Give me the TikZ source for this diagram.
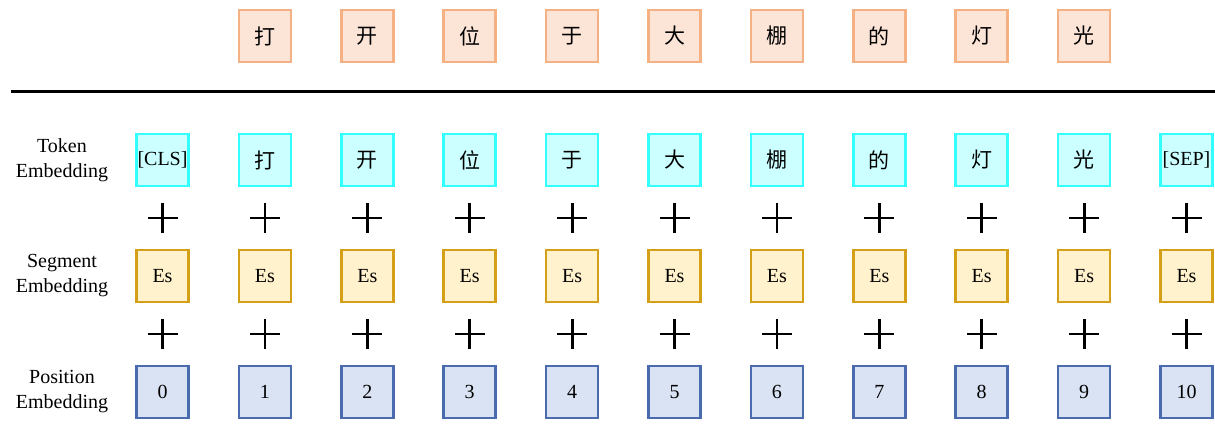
\documentclass[tikz,border=0pt]{standalone}
\usepackage{fontspec}
\setmainfont{Liberation Serif}
\newfontfamily\cjk{Noto Sans CJK SC}
\usepackage{xcolor}
\usetikzlibrary{positioning,calc}
\definecolor{outline}{HTML}{F4B183}
\definecolor{outfill}{HTML}{FCE4D6}
\definecolor{tokline}{HTML}{33FFFF}
\definecolor{tokfill}{HTML}{CCFFFF}
\definecolor{segline}{HTML}{D4A017}
\definecolor{segfill}{HTML}{FFF2CC}
\definecolor{posline}{HTML}{4A6CAE}
\definecolor{posfill}{HTML}{DAE3F3}
\begin{document}
\begin{tikzpicture}[x=1pt,y=-1pt,
  cell/.style={minimum size=52pt,inner sep=0pt,line width=2.6pt,
               font=\fontsize{20}{24}\selectfont},
  outbox/.style={cell,draw=outline,fill=outfill,font=\cjk\fontsize{21}{24}\selectfont},
  tokbox/.style={cell,draw=tokline,fill=tokfill},
  segbox/.style={cell,draw=segline,fill=segfill},
  posbox/.style={cell,draw=posline,fill=posfill},
  rowlabel/.style={align=center,font=\fontsize{20}{25}\selectfont},
  plus/.style={line width=2.8pt,black}
]
\useasboundingbox (0,0) rectangle (1215,423);
% output characters
\foreach \c [count=\i] in {打,开,位,于,大,棚,的,灯,光}
  \node[outbox] (out\i) at ({162.5+102.4*\i},36) {\c};
\draw[line width=3pt] (11,91) -- (1215,91);
% row labels
\node[rowlabel] (toklabel) at (62,160) {Token\\Embedding};
\node[rowlabel] (seglabel) at (62,276) {Segment\\Embedding};
\node[rowlabel] (poslabel) at (62,392) {Position\\Embedding};
% embedding columns
\node[tokbox] (tok0) at (162.5,160) {[CLS]};
\foreach \c [count=\i] in {打,开,位,于,大,棚,的,灯,光}
  \node[tokbox,font=\cjk\fontsize{21}{24}\selectfont] (tok\i) at ({162.5+102.4*\i},160) {\c};
\node[tokbox] (tok10) at (1186.5,160) {[SEP]};
\foreach \i in {0,...,10}{
  \node[segbox] (seg\i) at ({162.5+102.4*\i},276) {Es};
  \node[posbox] (pos\i) at ({162.5+102.4*\i},392) {\i};
  \draw[plus] ($(tok\i.south)!0.5!(seg\i.north)+(-15,0)$) -- ++(30,0)
              ($(tok\i.south)!0.5!(seg\i.north)+(0,-15)$) -- ++(0,30);
  \draw[plus] ($(seg\i.south)!0.5!(pos\i.north)+(-15,0)$) -- ++(30,0)
              ($(seg\i.south)!0.5!(pos\i.north)+(0,-15)$) -- ++(0,30);
}
\end{tikzpicture}
\end{document}
